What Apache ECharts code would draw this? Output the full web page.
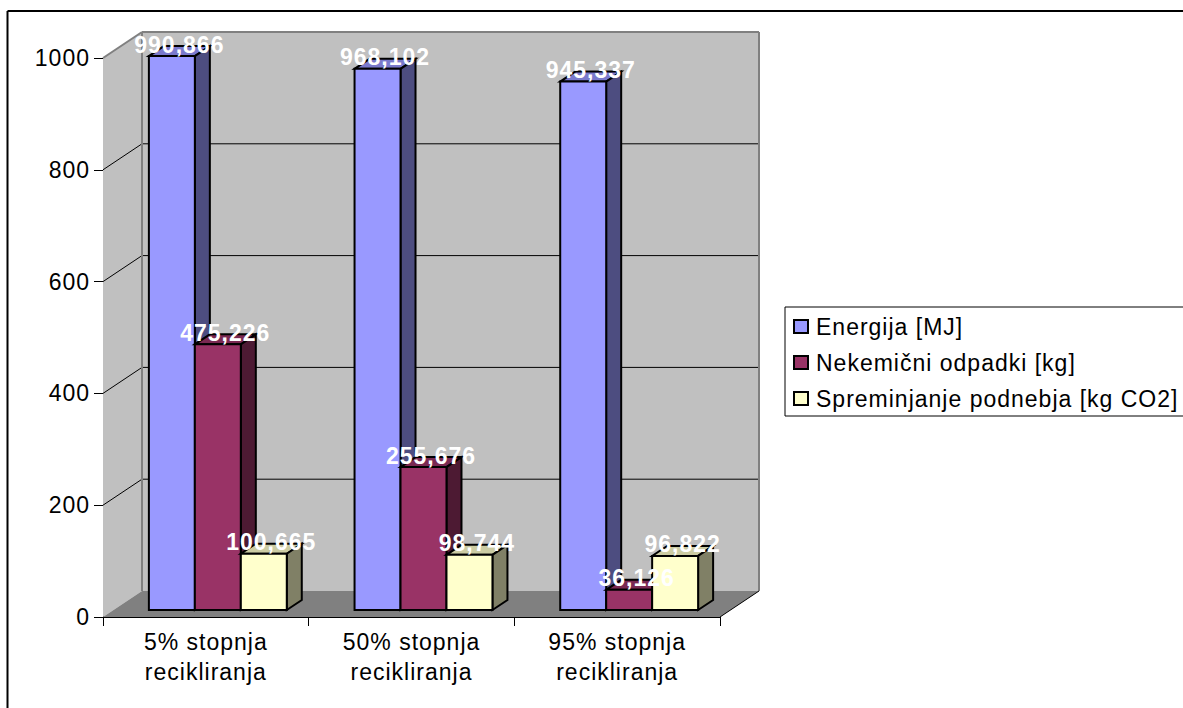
<!DOCTYPE html>
<html>
<head>
<meta charset="utf-8">
<style>
  html, body { margin: 0; padding: 0; background: #fff; }
  #chart { width: 1183px; height: 708px; letter-spacing: 1px; }
</style>
<script src="https://cdn.jsdelivr.net/npm/echarts@6/dist/echarts.min.js"></script>
</head>
<body>
<div id="chart"></div>
<script>
// Recycling-rate comparison: three impact indicators per scenario.
const categories = ['5% stopnja\nrecikliranja', '50% stopnja\nrecikliranja', '95% stopnja\nrecikliranja'];
const seriesNames = ['Energija [MJ]', 'Nekemični odpadki [kg]', 'Spreminjanje podnebja [kg CO2]'];
const energy = [990.866, 968.102, 945.337];
const waste = [475.226, 255.676, 36.126];
const climate = [100.665, 98.744, 96.822];
const yTicks = [0, 200, 400, 600, 800, 1000];

// Pseudo-3D projection, in pixels.
const WALL_DX = 39, WALL_DY = -26;   // front axis plane to back wall
const BAR_DX = 12, BAR_DY = -7;      // front axis plane to bar front faces
const SIDE_DX = 15, SIDE_DY = -10;   // depth of a bar
const BAR_SHARE = 0.2235;            // bar width as a share of the category band
const FONT = 'Arial, "Liberation Sans", sans-serif';
const FONT_SIZE = 23;

const palette = [
  { front: '#9999FF', side: '#4D4D80', top: '#7A7ACC' },
  { front: '#993366', side: '#4D1A33', top: '#7A2952' },
  { front: '#FFFFCC', side: '#808066', top: '#CCCCA3' }
];

function poly(points, fill, stroke, lineWidth, z2) {
  return {
    type: 'polygon',
    z2: z2 || 0,
    shape: { points },
    style: { fill, stroke: stroke || null, lineWidth: lineWidth || 0 }
  };
}
function seg(x1, y1, x2, y2, stroke, lineWidth) {
  return {
    type: 'line',
    shape: { x1, y1, x2, y2 },
    style: { stroke, lineWidth: lineWidth || 1 }
  };
}

// Walls, floor and gridlines behind the bars.
function renderWalls(params, api) {
  const c = params.coordSys;
  const x0 = c.x, x1 = c.x + c.width, top = c.y, bot = c.y + c.height;
  const bx0 = x0 + WALL_DX, bx1 = x1 + WALL_DX, btop = top + WALL_DY, bbot = bot + WALL_DY;
  const kids = [
    poly([[bx0, btop], [bx1, btop], [bx1, bbot], [bx0, bbot]], '#C0C0C0'),
    poly([[x0, top], [bx0, btop], [bx0, bbot], [x0, bot]], '#C0C0C0'),
    poly([[x0, bot], [bx0, bbot], [bx1, bbot], [x1, bot]], '#808080')
  ];
  yTicks.slice(1, -1).forEach(v => {
    const y = api.coord([0, v])[1];
    kids.push(seg(x0, y, bx0, y + WALL_DY, '#000'));
    kids.push(seg(bx0, y + WALL_DY, bx1, y + WALL_DY, '#000'));
  });
  kids.push(seg(x0, top, bx0, btop, '#808080', 2));
  kids.push(seg(bx0, btop, bx1, btop, '#808080', 2));
  kids.push(seg(bx1, btop, bx1, bbot, '#808080', 2));
  kids.push(seg(bx0, btop, bx0, bbot, '#808080', 2));
  kids.push(seg(x1, bot, bx1, bbot, '#000'));
  return { type: 'group', children: kids };
}

function barRenderer(seriesIndex) {
  const col = palette[seriesIndex];
  const layer = seriesIndex * 3 + 1;
  return function (params, api) {
    const value = api.value(1);
    const p = api.coord([api.value(0), value]);
    const base = api.coord([api.value(0), 0]);
    const w = api.size([1, 0])[0] * BAR_SHARE;
    const l = p[0] + BAR_DX + w * (seriesIndex - 1.5);
    const r = l + w;
    const t = p[1] + BAR_DY;
    const b = base[1] + BAR_DY;
    const stroke = '#000', lw = 2;
    return {
      type: 'group',
      children: [
        poly([[l, t], [r, t], [r + SIDE_DX, t + SIDE_DY], [l + SIDE_DX, t + SIDE_DY]], col.top, stroke, lw, layer),
        poly([[r, t], [r + SIDE_DX, t + SIDE_DY], [r + SIDE_DX, b + SIDE_DY], [r, b]], col.side, stroke, lw, layer + 1),
        poly([[l, t], [r, t], [r, b], [l, b]], col.front, stroke, lw, layer + 2),
        {
          type: 'text',
          z2: 100,
          style: {
            x: l + (w + SIDE_DX) / 2,
            y: t + SIDE_DY - 1.5,
            text: value.toFixed(3).replace('.', ','),
            fill: '#fff',
            font: 'bold ' + FONT_SIZE + 'px ' + FONT,
            align: 'center',
            verticalAlign: 'middle'
          }
        }
      ]
    };
  };
}

function rows(values) {
  return values.map((v, i) => [i, v]);
}

const chart = echarts.init(document.getElementById('chart'), null, { renderer: 'svg' });
chart.setOption({
  backgroundColor: '#fff',
  animation: false,
  textStyle: { fontFamily: FONT },
  graphic: [
    { type: 'line', silent: true, z: -1, shape: { x1: 7.5, y1: 11, x2: 1183, y2: 11 }, style: { stroke: '#000', lineWidth: 2 } },
    { type: 'line', silent: true, z: -1, shape: { x1: 7.5, y1: 11, x2: 7.5, y2: 708 }, style: { stroke: '#000', lineWidth: 2 } }
  ],
  grid: { left: 103, top: 58, right: 463, bottom: 91 },
  xAxis: {
    type: 'category',
    data: categories,
    axisLine: { show: true, lineStyle: { color: '#000', width: 1 }, onZero: false },
    axisTick: { show: true, length: 9, lineStyle: { color: '#000' } },
    axisLabel: { color: '#000', fontFamily: FONT, fontSize: FONT_SIZE, margin: 10, lineHeight: 30, interval: 0 },
    splitLine: { show: false }
  },
  yAxis: {
    type: 'value',
    min: 0,
    max: 1000,
    interval: 200,
    axisLine: { show: true, lineStyle: { color: '#000', width: 1 } },
    axisTick: { show: true, length: 9, lineStyle: { color: '#000' } },
    axisLabel: { color: '#000', fontFamily: FONT, fontSize: FONT_SIZE, margin: 13, formatter: v => String(v) },
    splitLine: { show: false }
  },
  legend: {
    orient: 'vertical',
    left: 785,
    top: 307,
    data: seriesNames,
    icon: 'rect',
    itemWidth: 14,
    itemHeight: 13,
    itemGap: 13,
    padding: [8, 60, 6, 8],
    borderColor: '#000',
    borderWidth: 1,
    backgroundColor: '#fff',
    textStyle: { color: '#000', fontFamily: FONT, fontSize: FONT_SIZE, padding: [0, 0, 0, 3] }
  },
  series: [
    {
      type: 'custom',
      name: 'walls',
      silent: true,
      z: 1,
      data: [[0, 0]],
      encode: { x: 0, y: 1 },
      renderItem: renderWalls
    }
  ].concat([energy, waste, climate].map((vals, i) => ({
    type: 'custom',
    name: seriesNames[i],
    z: 2,
    data: rows(vals),
    encode: { x: 0, y: 1 },
    itemStyle: { color: palette[i].front, borderColor: '#000', borderWidth: 1.5 },
    renderItem: barRenderer(i)
  })))
});
</script>
</body>
</html>
